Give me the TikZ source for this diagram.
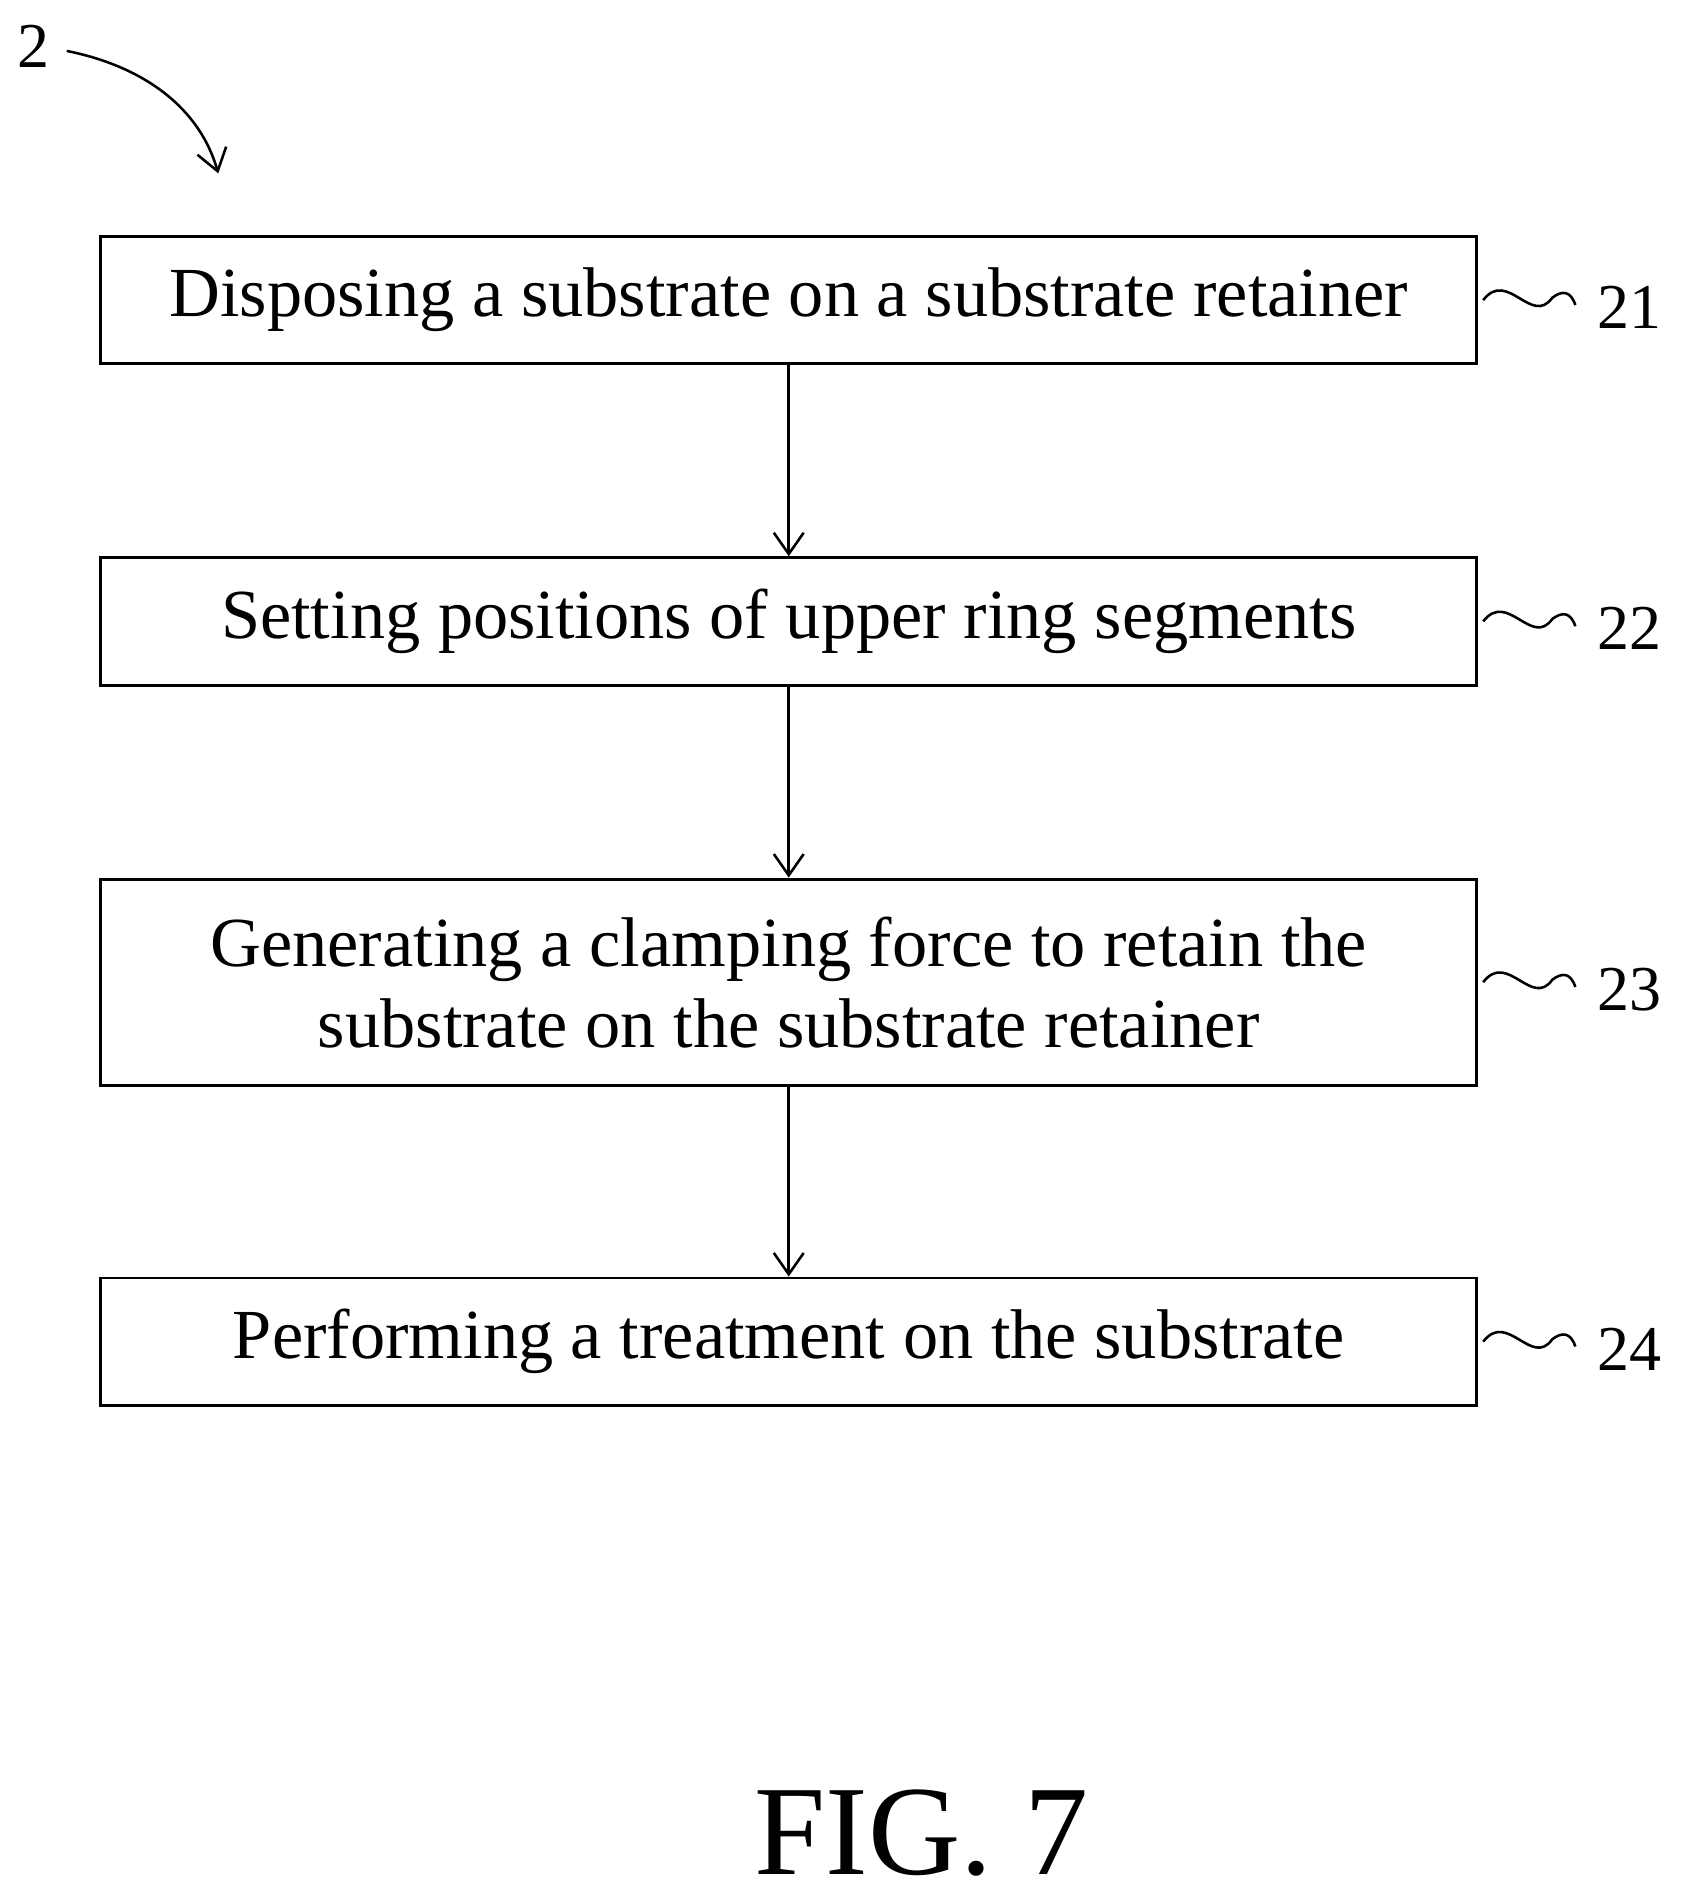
\documentclass[tikz,border=0pt]{standalone}
\usepackage{fontspec}
\setmainfont{Liberation Serif}
\usetikzlibrary{arrows.meta}
\begin{document}
\begin{tikzpicture}[x=0.01cm,y=-0.01cm,
  box/.style={draw,line width=0.7pt,minimum width=1135*0.01cm,align=center,font=\fontsize{16.5}{19}\selectfont,inner sep=0pt},
  arr/.style={-{Straight Barb[length=5pt,width=7pt]},line width=0.6pt},
  lab/.style={font=\fontsize{15}{18}\selectfont,anchor=west},
  sq/.style={line width=0.6pt}]
\useasboundingbox (0,0) rectangle (1386,1567);
\node[box,minimum height=105*0.01cm] (b1) at (650.5,247.5) {Disposing a substrate on a substrate retainer};
\node[box,minimum height=105*0.01cm] (b2) at (650.5,512.5) {Setting positions of upper ring segments};
\node[box,minimum height=170*0.01cm] (b3) at (650.5,810) {Generating a clamping force to retain the\\substrate on the substrate retainer};
\node[box,minimum height=105*0.01cm] (b4) at (650.5,1106.5) {Performing a treatment on the substrate};
\draw[arr] (b1.south) -- (b2.north);
\draw[arr] (b2.south) -- (b3.north);
\draw[arr] (b3.south) -- (b4.north);
\foreach \b/\n in {b1/21,b2/22,b3/23,b4/24}{
  \coordinate (s\n) at ([xshift=4*0.01cm]\b.east);
  \coordinate (e\n) at ([xshift=80*0.01cm,yshift=-4*0.01cm]\b.east);
  \draw[sq] (s\n) .. controls ([shift={(20,-26)}]s\n) and ([shift={(40,22)}]s\n) .. ([shift={(57,-2)}]s\n) .. controls ([shift={(65,-8)}]s\n) and ([shift={(72,-8)}]s\n) .. (e\n);
  \node[lab] (l\n) at ([xshift=86*0.01cm,yshift=-6*0.01cm]\b.east) {\n};
}
\node[font=\fontsize{15}{18}\selectfont] (two) at (28,38) {2};
\coordinate (tw) at (180,143);
\draw[arr] (55,42) .. controls (120,55) and (165,90) .. (tw);
\node[font=\fontsize{30}{34}\selectfont] (fig) at (760,1512) {FIG. 7};
\end{tikzpicture}
\end{document}
